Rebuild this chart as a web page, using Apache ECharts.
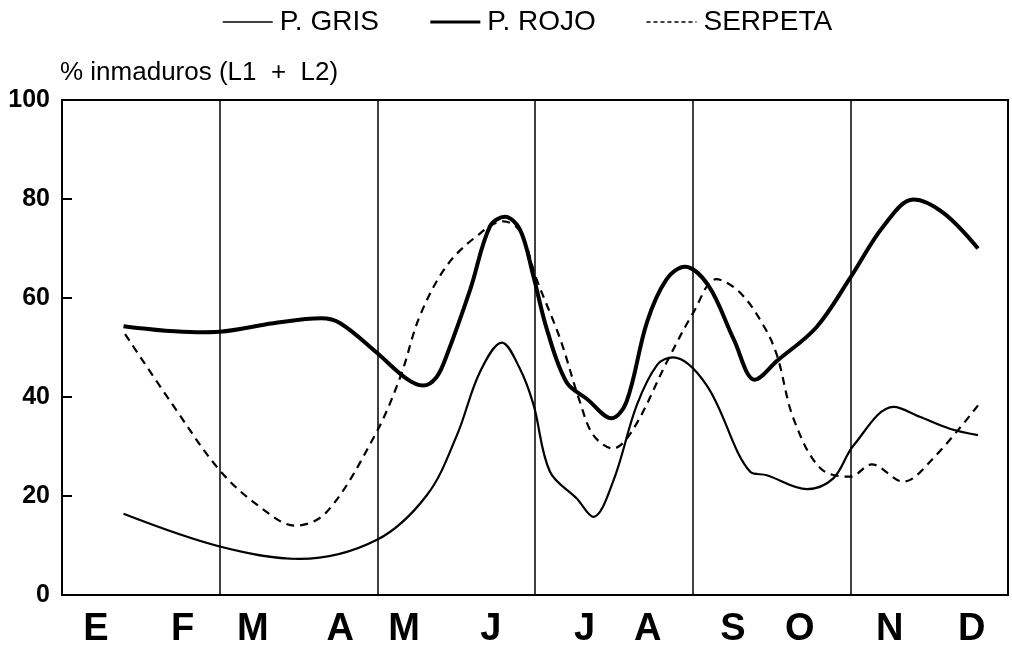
<!DOCTYPE html>
<html><head><meta charset="utf-8">
<script src="https://cdn.jsdelivr.net/npm/echarts@6/dist/echarts.min.js"></script>
<style>html,body{margin:0;padding:0;background:#fff}#c{width:1012px;height:649px}</style>
</head><body><div id="c"></div>
<script>
var monthLabels = ['E','F','M','A','M','J','J','A','S','O','N','D'];
var monthPos = [0.43,1.53,2.42,3.53,4.34,5.44,6.63,7.43,8.51,9.36,10.5,11.54];
var yTicks = [0,20,40,60,80,100];
var seriesNames = ['P. GRIS','P. ROJO','SERPETA'];
var gris = [[0.78,16.4],[2.0,9.8],[3.02,7.3],[3.99,11.1],[4.63,20.2],[5.01,32.3],[5.3,45],[5.58,51.0],[5.8,46],[5.98,38.5],[6.19,24.9],[6.53,19.5],[6.74,15.8],[6.99,22.9],[7.29,38.3],[7.55,46.5],[7.75,48.0],[8.18,42.3],[8.73,24.9],[8.94,24.2],[9.45,21.4],[9.78,23.5],[10.04,30.2],[10.55,38.0],[10.88,36.0],[11.26,33.6],[11.62,32.3]];
var rojo = [[0.78,54.3],[1.71,53.1],[2.0,53.2],[2.68,54.9],[3.29,55.9],[3.53,54.9],[3.99,49.0],[4.37,43.7],[4.58,42.3],[4.75,44.0],[4.88,48.4],[5.18,61.8],[5.43,74.5],[5.62,76.4],[5.81,73.8],[5.98,64.4],[6.15,53.7],[6.40,43.0],[6.66,39.6],[6.97,35.7],[7.16,39.0],[7.42,55.1],[7.67,63.8],[7.90,66.3],[8.2,62.5],[8.52,51.7],[8.79,43.5],[9.07,47.3],[9.57,54.1],[10.0,64.1],[10.42,74.5],[10.80,79.9],[11.18,77.2],[11.62,70.0]];
var serpeta = [[0.80,52.7],[1.41,38.3],[2.0,25.2],[2.51,17.8],[2.96,14.0],[3.36,16.8],[3.97,32.3],[4.29,44.0],[4.54,56.4],[4.88,66.5],[5.26,72.5],[5.60,75.5],[5.81,73.5],[6.02,63.8],[6.32,51.7],[6.57,39.0],[6.74,32.3],[6.99,29.6],[7.25,33.6],[7.67,47.0],[8.01,57.1],[8.30,63.8],[8.60,61.1],[8.90,54.4],[9.07,48.4],[9.28,35.6],[9.62,25.6],[10.0,23.9],[10.27,26.4],[10.67,22.9],[11.05,27.6],[11.62,38.3]];

var FONT = "'Liberation Sans',Arial,sans-serif";
var chart = echarts.init(document.getElementById('c'), null, {renderer:'canvas'});
chart.setOption({
  animation:false,
  backgroundColor:'#fff',
  legend:{
    top:3, left:217, itemWidth:50, itemHeight:14, itemGap:50,
    itemStyle:{opacity:0},
    textStyle:{fontFamily:FONT, fontSize:28, color:'#000', padding:[0,0,0,2]},
    data:[
      {name:seriesNames[0], lineStyle:{width:1.5}},
      {name:seriesNames[1], lineStyle:{width:3}},
      {name:seriesNames[2], lineStyle:{width:1.5, type:[4,3]}}
    ]
  },
  grid:{left:62, right:4, top:100, bottom:52, show:true, borderColor:'#000', borderWidth:2, backgroundColor:'transparent'},
  xAxis:[{
    type:'value', min:0, max:12, interval:2,
    axisLine:{show:true, lineStyle:{color:'#000', width:2}},
    axisTick:{show:false}, axisLabel:{show:false},
    splitLine:{show:true, lineStyle:{color:'#000', width:1.5}}
  },{
    type:'value', min:0, max:12, position:'bottom',
    axisLine:{show:false}, axisTick:{show:false}, splitLine:{show:false},
    axisLabel:{show:true, customValues:monthPos, margin:16,
      fontFamily:FONT, fontSize:38, color:'#000', fontWeight:'bold',
      formatter:function(v){var i=monthPos.indexOf(v);return i>=0?monthLabels[i]:'';}}
  }],
  yAxis:{
    type:'value', min:0, max:100, interval:20,
    name:'% inmaduros (L1  +  L2)', nameLocation:'end', nameGap:14,
    nameTextStyle:{fontFamily:FONT, fontSize:26, color:'#000', align:'left', padding:[0,0,0,-2]},
    axisLine:{show:true, lineStyle:{color:'#000', width:2}},
    axisTick:{show:true, inside:true, length:10, lineStyle:{color:'#000', width:2}},
    axisLabel:{fontFamily:FONT, fontSize:25, color:'#000', fontWeight:'bold', margin:12,
      customValues:yTicks},
    splitLine:{show:false}
  },
  series:[
    {name:seriesNames[0], type:'line', data:gris, smooth:0.35, symbol:'none', xAxisIndex:0,
      lineStyle:{color:'#000', width:2.2}, itemStyle:{color:'#000'}},
    {name:seriesNames[1], type:'line', data:rojo, smooth:0.35, symbol:'none', xAxisIndex:0,
      lineStyle:{color:'#000', width:4}, itemStyle:{color:'#000'}},
    {name:seriesNames[2], type:'line', data:serpeta, smooth:0.35, symbol:'none', xAxisIndex:0,
      lineStyle:{color:'#000', width:2.2, type:[8,6]}, itemStyle:{color:'#000'}}
  ]
});
</script></body></html>
